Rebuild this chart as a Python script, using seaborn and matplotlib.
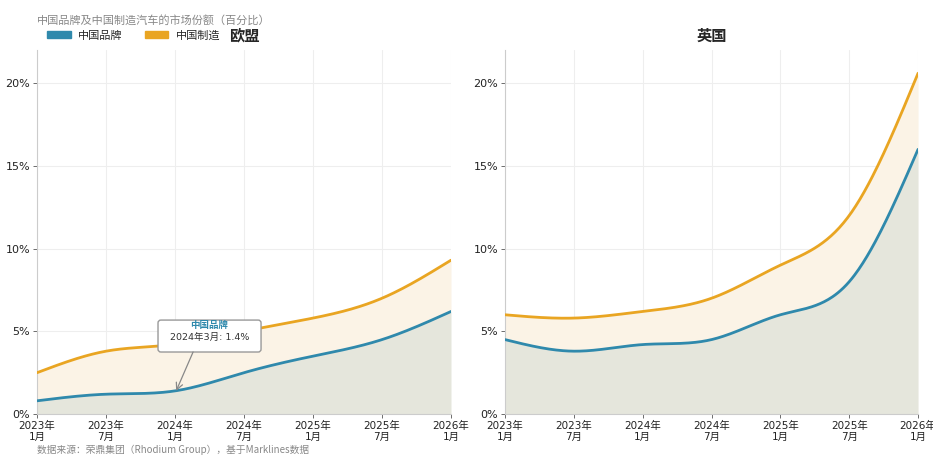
import numpy as np
import pandas as pd
import matplotlib
matplotlib.use("Agg")
import matplotlib.pyplot as plt
import seaborn as sns
from matplotlib.patches import Patch, FancyBboxPatch

# ---- data (semi-annual readings, %) ----
months = [0, 6, 12, 18, 24, 30, 36]
tick_labels = ["2023年\n1月", "2023年\n7月", "2024年\n1月", "2024年\n7月",
               "2025年\n1月", "2025年\n7月", "2026年\n1月"]
eu_brand = [0.8, 1.2, 1.4, 2.5, 3.5, 4.5, 6.2]
eu_made = [2.5, 3.8, 4.2, 5.0, 5.8, 7.0, 9.3]
uk_brand = [4.5, 3.8, 4.2, 4.5, 6.0, 8.0, 16.0]
uk_made = [6.0, 5.8, 6.2, 7.0, 9.0, 12.0, 20.6]
yticks = [0, 5, 10, 15, 20]

BLUE = "#2f89ac"
ORANGE = "#e9a522"
FILL_BLUE = "#e5e6dc"
FILL_ORANGE = "#fbf3e6"
CJK = ['Noto Sans CJK SC', 'DejaVu Sans']

sns.set_theme(style="white")
plt.rcParams['font.family'] = ['DejaVu Sans', 'Noto Sans CJK SC']


def smooth(x, y, n=300):
    """natural cubic spline used only for drawing the curve"""
    x = np.asarray(x, float); y = np.asarray(y, float)
    k = len(x)
    h = np.diff(x)
    A = np.zeros((k, k)); b = np.zeros(k)
    A[0, 0] = A[-1, -1] = 1
    for i in range(1, k - 1):
        A[i, i - 1] = h[i - 1]; A[i, i] = 2 * (h[i - 1] + h[i]); A[i, i + 1] = h[i]
        b[i] = 3 * ((y[i + 1] - y[i]) / h[i] - (y[i] - y[i - 1]) / h[i - 1])
    c = np.linalg.solve(A, b)
    xs = np.linspace(x[0], x[-1], n)
    idx = np.clip(np.searchsorted(x, xs) - 1, 0, k - 2)
    dx = xs - x[idx]
    bb = (y[1:] - y[:-1]) / h - h * (2 * c[:-1] + c[1:]) / 3
    d = (c[1:] - c[:-1]) / (3 * h)
    ys = y[idx] + bb[idx] * dx + c[idx] * dx ** 2 + d[idx] * dx ** 3
    return xs, ys


fig = plt.figure(figsize=(9.33, 4.55), dpi=100)
ax1 = fig.add_axes([0.0397, 0.090, 0.4437, 0.800])
ax2 = fig.add_axes([0.5413, 0.090, 0.4427, 0.800])

for ax, brand, made, title in [(ax1, eu_brand, eu_made, "欧盟"), (ax2, uk_brand, uk_made, "英国")]:
    xs, yb = smooth(months, brand)
    _, ym = smooth(months, made)
    ax.fill_between(xs, 0, yb, color=FILL_BLUE, lw=0, zorder=1)
    ax.fill_between(xs, yb, ym, color=FILL_ORANGE, lw=0, zorder=1)
    df = pd.DataFrame({"x": np.concatenate([xs, xs]),
                       "y": np.concatenate([yb, ym]),
                       "s": ["中国品牌"] * len(xs) + ["中国制造"] * len(xs)})
    sns.lineplot(data=df, x="x", y="y", hue="s", palette=[BLUE, ORANGE],
                 lw=2, ax=ax, legend=False, zorder=3)
    ax.set_xlim(0, 36)
    ax.set_ylim(0, 22)
    ax.set_xticks(months)
    ax.set_xticklabels(tick_labels, fontsize=7.5, linespacing=1.1)
    ax.set_yticks(yticks)
    ax.set_yticklabels([f"{v}%" for v in yticks], fontsize=8)
    ax.set_xlabel(""); ax.set_ylabel("")
    ax.grid(True, color="#eeeeee", lw=0.8, zorder=0)
    ax.set_axisbelow(True)
    for s in ["top", "right"]:
        ax.spines[s].set_visible(False)
    for s in ["left", "bottom"]:
        ax.spines[s].set_color("#cccccc")
        ax.spines[s].set_linewidth(0.8)
    ax.tick_params(axis="both", which="both", length=3, width=0.6, color="#555555",
                   pad=2, labelcolor="#222222", bottom=True, left=True)
    ax.set_title(title, fontsize=11, fontweight="bold", pad=7, family=CJK)

# annotation on EU chart
box = FancyBboxPatch((10.52, 3.75), 8.96, 1.93,
                     boxstyle="round,pad=0,rounding_size=0.25", mutation_aspect=0.7,
                     fc="white", ec="#999999", lw=1, zorder=4, transform=ax1.transData)
ax1.add_patch(box)
ax1.annotate("", xy=(12.1, eu_brand[2]), xytext=(13.57, 3.75),
             arrowprops=dict(arrowstyle="->", color="#888888", lw=0.9,
                             shrinkA=0, shrinkB=0), zorder=5)
ax1.text(15.0, 5.38, "中国品牌", fontsize=6.8, color=BLUE, fontweight="bold",
         ha="center", va="center", family=CJK, zorder=5)
ax1.text(15.0, 4.65, "2024年3月: 1.4%", fontsize=6.8, color="#333333",
         ha="center", va="center", zorder=5)

# header text and legend
fig.text(0.0397, 0.955, "中国品牌及中国制造汽车的市场份额（百分比）", fontsize=8,
         color="#888888", ha="left", va="center", family=CJK)
handles = [Patch(color=BLUE, label="中国品牌"), Patch(color=ORANGE, label="中国制造")]
fig.legend(handles=handles, loc="center left", bbox_to_anchor=(0.04, 0.922),
           ncol=2, frameon=False, handlelength=2.1, handleheight=0.6,
           columnspacing=2.0, handletextpad=0.7,
           prop={'family': CJK, 'size': 8})

fig.text(0.0397, 0.011, "数据来源：荣鼎集团（Rhodium Group），基于Marklines数据",
         fontsize=7, color="#888888", ha="left", va="center", family=CJK)

fig.savefig("out.png", dpi=100, facecolor="white")
